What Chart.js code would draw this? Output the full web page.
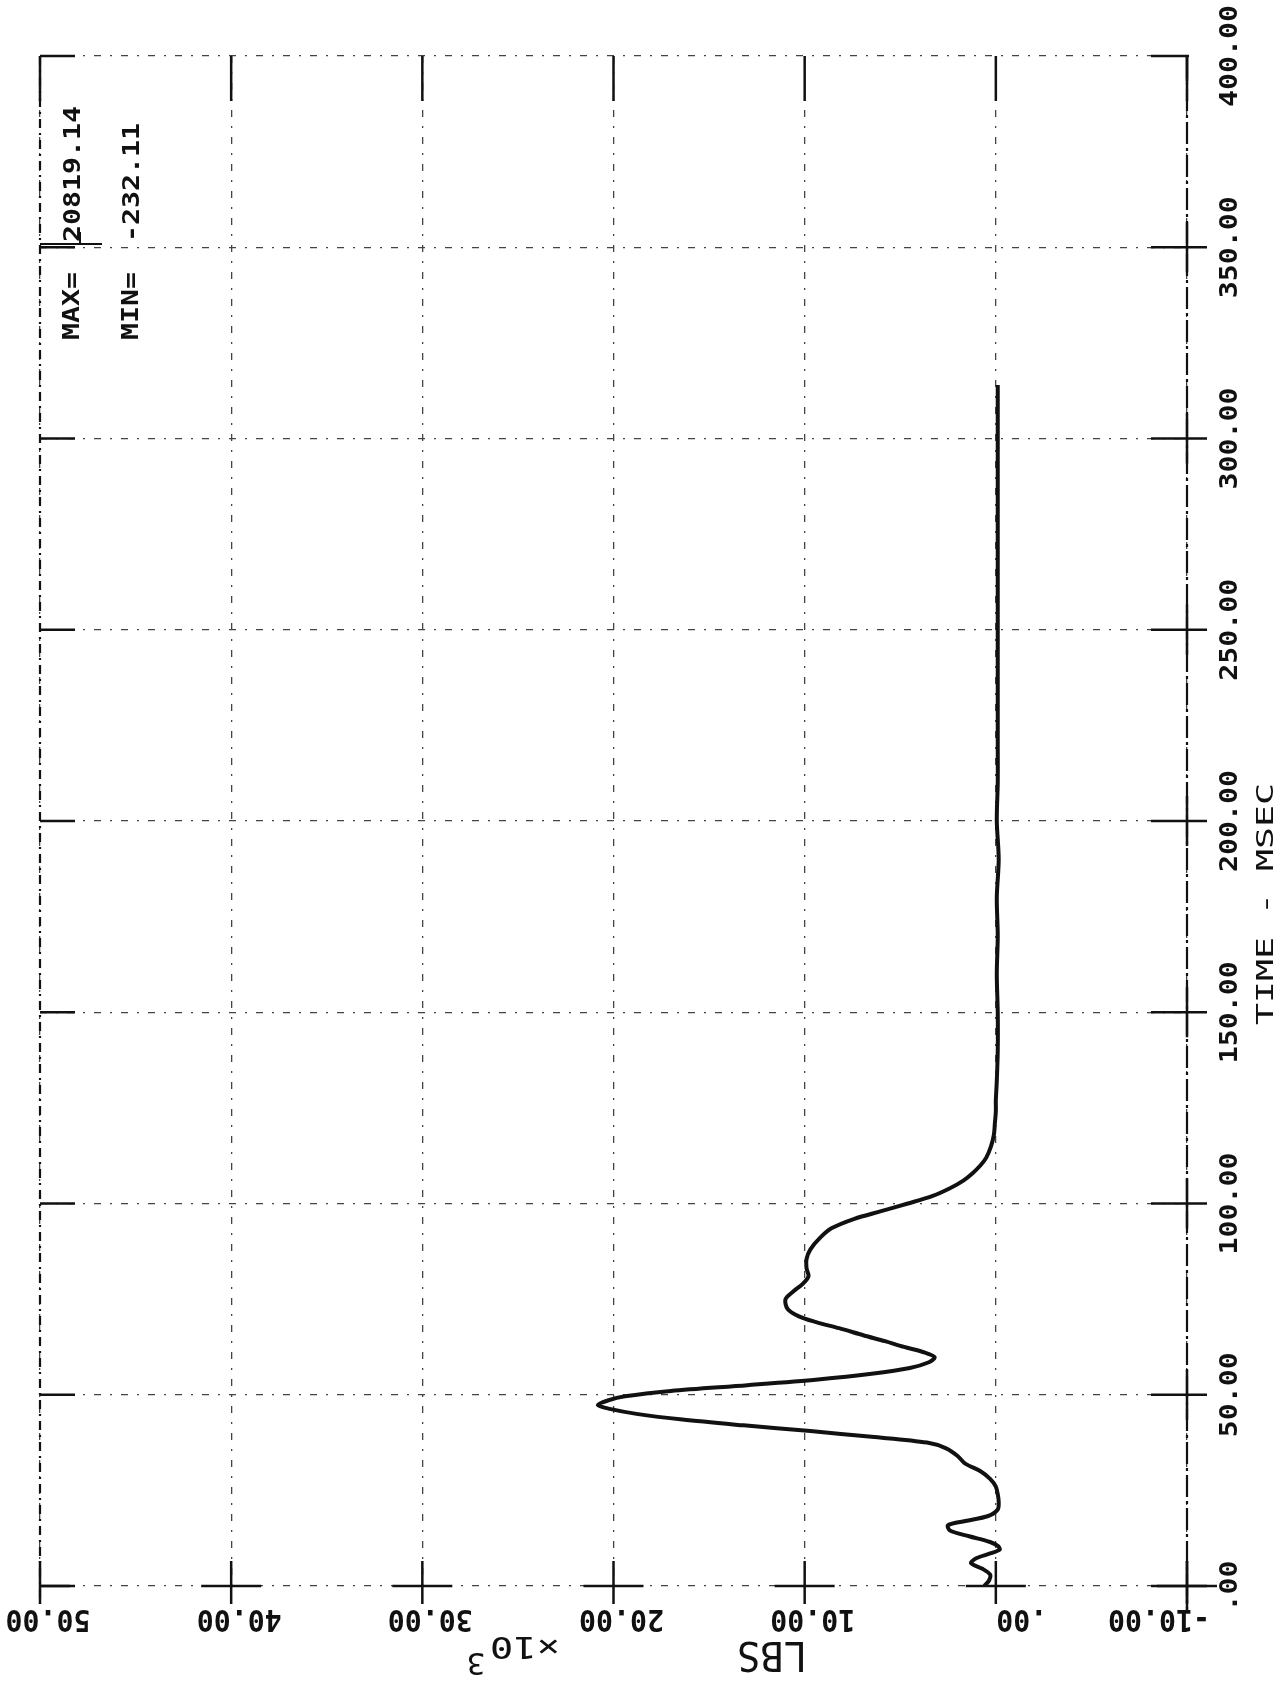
<!DOCTYPE html>
<html>
<head>
<meta charset="utf-8">
<title>LBS vs TIME</title>
<script src="https://cdn.jsdelivr.net/npm/chart.js@4.4.1/dist/chart.umd.min.js"></script>
<style>
  html, body { margin: 0; padding: 0; background: #fff; }
  #wrap { width: 1278px; height: 1681px; position: relative; }
</style>
</head>
<body>
<div id="wrap"><canvas id="forceChart"></canvas></div>
<script>
// --------------------- Data ---------------------
// time in msec, force in LBS x10^3
const timeMs = [0, 1.5, 3, 4.5, 6, 7.3, 8.5, 9.5, 10.5, 11.5, 13, 14.5, 15.9, 17, 18.3, 20, 22, 24, 26, 28,
  30, 32, 34, 36, 37.5, 39, 40.5, 42, 43.5, 45, 46.3, 47.3, 48.5, 49.6, 51, 52.5, 54, 55.5, 57, 58.5,
  59.8, 61, 62.5, 64, 65.5, 67.4, 69, 70.5, 72.5, 75, 77, 79, 81, 83, 85.5, 88, 91, 93.5, 96, 98,
  100, 102, 104, 106, 108, 110, 112, 115, 118, 121, 124, 127, 132, 140, 150, 160, 170, 180, 190, 200,
  210, 220, 240, 260, 280, 300, 314];
const forceKlbs = [0.6, 0.35, 0.3, 0.7, 1.3, 1.0, 0.3, -0.2, -0.1, 0.3, 1.4, 2.4, 2.5, 1.6, 0.4, -0.1, -0.15, -0.1, 0.0, 0.3,
  0.8, 1.6, 2.0, 2.6, 3.6, 6.5, 9.7, 13.2, 16.4, 18.8, 20.2, 20.82, 20.3, 19.4, 17.0, 13.0, 9.3, 6.5, 4.5, 3.5,
  3.2, 3.7, 4.8, 5.8, 6.9, 8.2, 9.4, 10.3, 10.9, 11.0, 10.6, 10.1, 9.8, 9.9, 9.9, 9.7, 9.2, 8.6, 7.4, 6.0,
  4.6, 3.3, 2.4, 1.7, 1.2, 0.8, 0.5, 0.25, 0.1, 0.05, 0.0, 0.0, -0.05, -0.1, -0.1, -0.05, -0.1, -0.05, -0.15, -0.05,
  -0.1, -0.1, -0.1, -0.1, -0.1, -0.1, -0.1];

const lbsTicks = [50, 40, 30, 20, 10, 0, -10];
const lbsTickLabels = ["50.00", "40.00", "30.00", "20.00", "10.00", ".00", "-10.00"];
const timeTicks = [0, 50, 100, 150, 200, 250, 300, 350, 400];
const timeTickLabels = [".00", "50.00", "100.00", "150.00", "200.00", "250.00", "300.00", "350.00", "400.00"];
const maxText = "20819.14";
const minText = "-232.11";

// --------------------- Drawing helpers ---------------------
const MONO = '"DejaVu Sans Mono", "Liberation Mono", monospace';
const INK = "#111";

function drawText(ctx, text, x, y, angle, font, advance, align) {
  ctx.save();
  ctx.translate(x, y);
  ctx.rotate(angle);
  ctx.font = font;
  const w = ctx.measureText(text).width;
  const sx = advance ? (advance * text.length) / w : 1;
  ctx.scale(sx, 1);
  ctx.textAlign = align || "center";
  ctx.textBaseline = "alphabetic";
  ctx.fillStyle = INK;
  ctx.fillText(text, 0, 0);
  ctx.restore();
}

function seg(ctx, x1, y1, x2, y2, width, dash) {
  ctx.save();
  ctx.strokeStyle = INK;
  ctx.lineWidth = width;
  ctx.setLineDash(dash || []);
  ctx.beginPath();
  ctx.moveTo(x1, y1);
  ctx.lineTo(x2, y2);
  ctx.stroke();
  ctx.restore();
}

// plotter style axes, ticks and text drawn on top of the chart
const plotterMarks = {
  id: "plotterMarks",
  afterDraw(chart) {
    const { ctx, chartArea: a, scales: { x, y } } = chart;
    const L = a.left, R = a.right, T = a.top, B = a.bottom;

    // borders
    seg(ctx, L, T, L, B + 18, 2.2, [9, 5, 2, 5]);
    seg(ctx, R, T, R, B + 25, 2.2, [22, 4, 3, 4]);

    // time axis (right)
    timeTicks.forEach((t, i) => {
      const py = y.getPixelForValue(t);
      seg(ctx, R - 36, py, t === 400 ? R + 2 : R + 20, py, 2.5);
      seg(ctx, R, py - (t === 400 ? 0 : 25), R, py + 25, 2.5);
      seg(ctx, L, py, L + 35, py, 2.5);
      drawText(ctx, timeTickLabels[i], R + 50, py, -Math.PI / 2, "bold 25px " + MONO, 17);
    });
    drawText(ctx, "TIME - MSEC", R + 86, 904, -Math.PI / 2, "23px " + MONO, 22);

    // LBS axis (bottom, upside down)
    const nudge = { 0: 18, "-10": -36 };
    lbsTicks.forEach((v, i) => {
      const px = x.getPixelForValue(v);
      seg(ctx, px, B - 25, px, B + 18, 2.5);
      seg(ctx, Math.max(L, px - 30), B, px + 30, B, 2.5);
      seg(ctx, px, T, px, T + 45, 2.5);
      const dx = 8 + (nudge[v] || 0);
      drawText(ctx, lbsTickLabels[i], px + dx, B + 24, Math.PI, "bold 30px " + MONO, 17);
    });
    drawText(ctx, "LBS", 772, B + 56, Math.PI, "41px " + MONO, 23.3);
    drawText(ctx, "\u00d710", 525, B + 51, Math.PI, "31px " + MONO, 23.3);
    drawText(ctx, "3", 476, B + 67, Math.PI, "31px " + MONO);

    // MAX / MIN box
    drawText(ctx, "MAX=", 79, 340, -Math.PI / 2, "bold 23px " + MONO, 17, "left");
    drawText(ctx, maxText, 80, 242, -Math.PI / 2, "bold 23px " + MONO, 17, "left");
    drawText(ctx, "MIN=", 138, 340, -Math.PI / 2, "bold 23px " + MONO, 17, "left");
    drawText(ctx, minText, 139, 242, -Math.PI / 2, "bold 23px " + MONO, 17, "left");
    seg(ctx, L, 244, L + 62, 244, 2);
    seg(ctx, L + 40, 244, L + 40, 232, 2);
  }
};

// --------------------- Chart ---------------------
const gridDash = [7, 9, 2, 9];

new Chart(document.getElementById("forceChart"), {
  type: "scatter",
  data: {
    datasets: [{
      data: timeMs.map((t, i) => ({ x: forceKlbs[i], y: t })),
      showLine: true,
      borderColor: INK,
      borderWidth: 4,
      pointRadius: 0,
      tension: 0.3,
      fill: false
    }]
  },
  options: {
    responsive: true,
    maintainAspectRatio: false,
    animation: false,
    layout: { padding: { left: 40, top: 56, right: 91, bottom: 95 } },
    plugins: { legend: { display: false }, tooltip: { enabled: false } },
    scales: {
      x: {
        type: "linear", reverse: true, min: -10, max: 50,
        ticks: { display: false, stepSize: 10 },
        grid: { color: "#444", lineWidth: 1.3, drawTicks: false },
        border: { display: false, dash: gridDash },
        afterFit: s => { s.height = 0; }
      },
      y: {
        type: "linear", position: "right", min: 0, max: 400,
        ticks: { display: false, stepSize: 50 },
        grid: { color: "#444", lineWidth: 1.3, drawTicks: false },
        border: { display: false, dash: gridDash },
        afterFit: s => { s.width = 0; }
      }
    }
  },
  plugins: [plotterMarks]
});
</script>
</body>
</html>
